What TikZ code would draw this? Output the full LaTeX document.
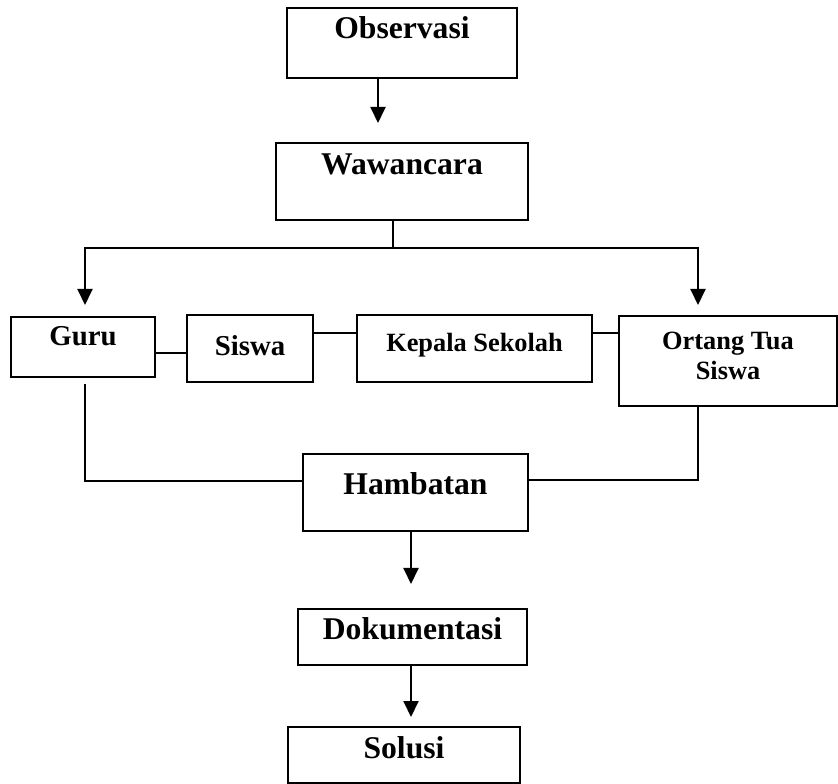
\documentclass[tikz,border=0pt]{standalone}
\usepackage{fontspec}
\setmainfont{Liberation Serif}
\usetikzlibrary{arrows.meta,positioning,calc}

\begin{document}
\begin{tikzpicture}[
  >={Triangle[length=0.32cm,width=0.3cm]},
  box/.style={draw,line width=1.2pt,rectangle,anchor=north,inner xsep=0pt,inner ysep=0pt,font=\fontsize{18}{20}\selectfont\bfseries},
  midbox/.style={box,font=\fontsize{16.4}{18}\selectfont\bfseries},
  smallbox/.style={box,font=\fontsize{15}{17}\selectfont\bfseries},
  link/.style={line width=1.1pt},
  flow/.style={link,->}
]
\useasboundingbox (0,0) rectangle (16.76,-15.68);

% top of the flow
\node[box,minimum width=4.6cm,text height=0.6cm,text depth=0.8cm] (obs) at (8.04,-0.14) {Observasi};
\node[box,minimum width=5.04cm,text height=0.62cm,text depth=0.92cm] (waw) at (8.04,-2.84) {Wawancara};

% the four sources in one row
\node[midbox,minimum width=2.88cm,text height=0.56cm,text depth=0.64cm] (guru) at (1.66,-6.32) {Guru};
\node[midbox,minimum width=2.52cm,text height=0.8cm,text depth=0.54cm] (siswa) at (5.0,-6.28) {Siswa};
\node[smallbox,minimum width=4.7cm,text height=0.72cm,text depth=0.62cm] (kepsek) at (9.49,-6.28) {Kepala Sekolah};
\node[smallbox,minimum width=4.36cm,minimum height=1.8cm,align=center] (ortu) at (14.56,-6.3) {Ortang Tua\\Siswa\rule[-0.2cm]{0pt}{0.2cm}};

% bottom of the flow
\node[box,minimum width=4.5cm,text height=0.8cm,text depth=0.74cm] (hamb) at (8.31,-9.06) {Hambatan};
\node[box,minimum width=4.58cm,text height=0.6cm,text depth=0.52cm] (dok) at (8.25,-12.16) {Dokumentasi};
\node[box,minimum width=4.64cm,text height=0.62cm,text depth=0.5cm] (sol) at (8.08,-14.52) {Solusi};

\coordinate (split) at (7.86,-4.96);

% arrows and links
\draw[flow,shorten >=0.38cm] ([xshift=-0.48cm]obs.south) -- ([xshift=-0.48cm]obs.south |- waw.north);
\draw[link] (split) -- (split |- waw.south);
\draw[flow,shorten >=0.22cm] (split) -| ([xshift=0.04cm]guru.north);
\draw[flow,shorten >=0.2cm] (split) -| ([xshift=-0.6cm]ortu.north);

\draw[link] ([yshift=-0.12cm]guru.east) -- ([yshift=-0.12cm]guru.east -| siswa.west);
\draw[link] ([yshift=0.31cm]siswa.east) -- ([yshift=0.31cm]siswa.east -| kepsek.west);
\draw[link] ([yshift=0.31cm]kepsek.east) -- ([yshift=0.31cm]kepsek.east -| ortu.west);

\draw[link] ([yshift=0.23cm]hamb.west) -| ([xshift=0.04cm,yshift=-0.12cm]guru.south);
\draw[link] ([yshift=0.25cm]hamb.east) -| ([xshift=-0.6cm]ortu.south);

\draw[flow,shorten >=0.48cm] ([xshift=-0.09cm]hamb.south) -- ([xshift=-0.09cm]hamb.south |- dok.north);
\draw[flow,shorten >=0.18cm] ([xshift=-0.03cm]dok.south) -- ([xshift=-0.03cm]dok.south |- sol.north);

\end{tikzpicture}
\end{document}
